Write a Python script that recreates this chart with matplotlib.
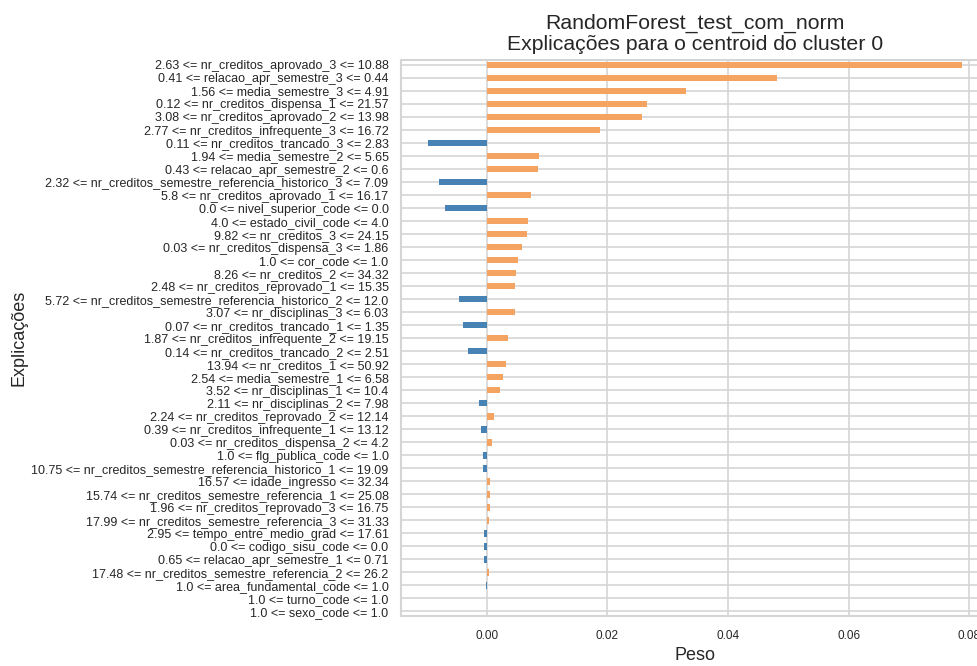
import matplotlib

matplotlib.use("Agg")
import matplotlib.pyplot as plt
from matplotlib import font_manager

# explanation labels, top to bottom, with their weights
labels = [
    "2.63 <= nr_creditos_aprovado_3 <= 10.88",
    "0.41 <= relacao_apr_semestre_3 <= 0.44",
    "1.56 <= media_semestre_3 <= 4.91",
    "0.12 <= nr_creditos_dispensa_1 <= 21.57",
    "3.08 <= nr_creditos_aprovado_2 <= 13.98",
    "2.77 <= nr_creditos_infrequente_3 <= 16.72",
    "0.11 <= nr_creditos_trancado_3 <= 2.83",
    "1.94 <= media_semestre_2 <= 5.65",
    "0.43 <= relacao_apr_semestre_2 <= 0.6",
    "2.32 <= nr_creditos_semestre_referencia_historico_3 <= 7.09",
    "5.8 <= nr_creditos_aprovado_1 <= 16.17",
    "0.0 <= nivel_superior_code <= 0.0",
    "4.0 <= estado_civil_code <= 4.0",
    "9.82 <= nr_creditos_3 <= 24.15",
    "0.03 <= nr_creditos_dispensa_3 <= 1.86",
    "1.0 <= cor_code <= 1.0",
    "8.26 <= nr_creditos_2 <= 34.32",
    "2.48 <= nr_creditos_reprovado_1 <= 15.35",
    "5.72 <= nr_creditos_semestre_referencia_historico_2 <= 12.0",
    "3.07 <= nr_disciplinas_3 <= 6.03",
    "0.07 <= nr_creditos_trancado_1 <= 1.35",
    "1.87 <= nr_creditos_infrequente_2 <= 19.15",
    "0.14 <= nr_creditos_trancado_2 <= 2.51",
    "13.94 <= nr_creditos_1 <= 50.92",
    "2.54 <= media_semestre_1 <= 6.58",
    "3.52 <= nr_disciplinas_1 <= 10.4",
    "2.11 <= nr_disciplinas_2 <= 7.98",
    "2.24 <= nr_creditos_reprovado_2 <= 12.14",
    "0.39 <= nr_creditos_infrequente_1 <= 13.12",
    "0.03 <= nr_creditos_dispensa_2 <= 4.2",
    "1.0 <= flg_publica_code <= 1.0",
    "10.75 <= nr_creditos_semestre_referencia_historico_1 <= 19.09",
    "16.57 <= idade_ingresso <= 32.34",
    "15.74 <= nr_creditos_semestre_referencia_1 <= 25.08",
    "1.96 <= nr_creditos_reprovado_3 <= 16.75",
    "17.99 <= nr_creditos_semestre_referencia_3 <= 31.33",
    "2.95 <= tempo_entre_medio_grad <= 17.61",
    "0.0 <= codigo_sisu_code <= 0.0",
    "0.65 <= relacao_apr_semestre_1 <= 0.71",
    "17.48 <= nr_creditos_semestre_referencia_2 <= 26.2",
    "1.0 <= area_fundamental_code <= 1.0",
    "1.0 <= turno_code <= 1.0",
    "1.0 <= sexo_code <= 1.0",
]
weights = [
    0.0788, 0.0482, 0.0330, 0.0266, 0.0258, 0.0188, -0.0098, 0.0086,
    0.0084, -0.0080, 0.0074, -0.0070, 0.0068, 0.0067, 0.0059, 0.0052,
    0.0048, 0.0047, -0.0047, 0.0046, -0.0039, 0.0035, -0.0032, 0.0032,
    0.0027, 0.0021, -0.0013, 0.0012, -0.0009, 0.0008, -0.0007, -0.00065,
    0.0006, 0.0006, 0.00058, 0.0004, -0.00045, -0.00045, -0.0004, 0.0004,
    -0.0002, 0.0, 0.0,
]

installed = {f.name for f in font_manager.fontManager.ttflist}
narrow = "Liberation Sans Narrow" if "Liberation Sans Narrow" in installed else "Liberation Sans"
plt.rcParams["font.family"] = ["Liberation Sans", "DejaVu Sans"]

fig = plt.figure(figsize=(9.77, 6.66), dpi=100)
ax = fig.add_axes([0.4105, 0.0751, 0.6015, 0.8348])

n = len(labels)
pos = list(range(n))[::-1]
colors = ["sandybrown" if w > 0 else "steelblue" for w in weights]
ax.barh(pos, weights, height=0.5, color=colors, zorder=2)

ax.set_yticks(pos)
ax.set_yticklabels(labels, family=narrow, fontsize=9, color="#262626")
ax.set_ylim(-0.35, n - 1 + 0.38)
ax.set_xticks([0.0, 0.02, 0.04, 0.06, 0.08])
ax.set_xticklabels(["0.00", "0.02", "0.04", "0.06", "0.08"], family=narrow,
                   fontsize=8.5, color="#262626")

ax.grid(True, color="#d5d5d5", linewidth=1.2, zorder=0)
ax.set_axisbelow(True)
for s in ax.spines.values():
    s.set_color("#d5d5d5")
    s.set_linewidth(1.5)
ax.tick_params(axis="y", length=0, pad=9)
ax.tick_params(axis="x", length=0, pad=10)

ax.set_title("RandomForest_test_com_norm\nExplicações para o centroid do cluster 0",
             fontsize=15.3, color="#262626", pad=7, linespacing=1.12)
ax.set_xlabel("Peso", fontsize=13, color="#262626", labelpad=4)
ax.set_ylabel("Explicações", fontsize=13, color="#262626")
ax.yaxis.set_label_coords(-0.635, 0.5)

fig.savefig("out.png", dpi=100)
